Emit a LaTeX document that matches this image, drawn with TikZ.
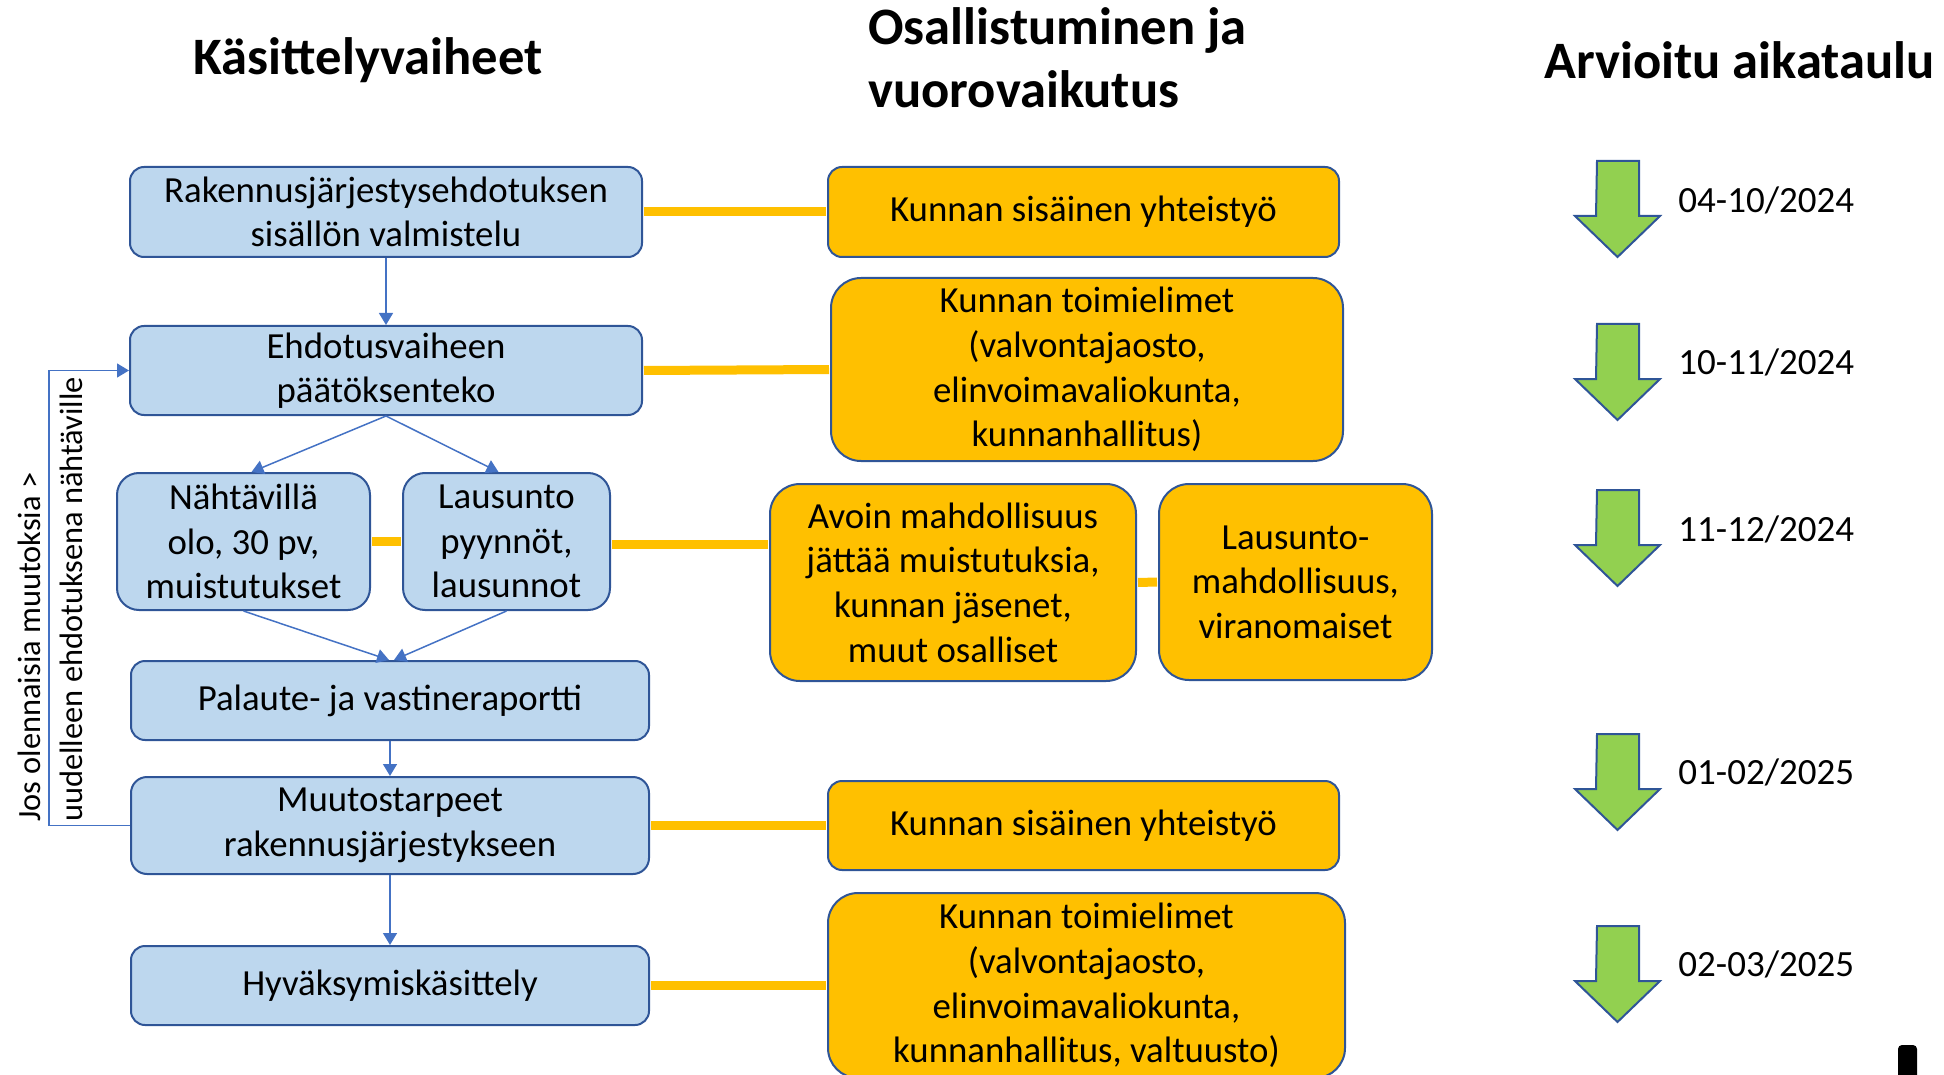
\documentclass[tikz,border=0pt]{standalone}
\usepackage{fontspec}
\setmainfont{Carlito}
\usetikzlibrary{arrows.meta, positioning}

\definecolor{stepfill}{HTML}{BDD7EE}
\definecolor{boxline}{HTML}{2F5597}
\definecolor{partfill}{HTML}{FFC000}
\definecolor{flowblue}{HTML}{4472C4}
\definecolor{arrowgreen}{HTML}{92D050}

\begin{document}
\begin{tikzpicture}[
    x=0.5pt, y=-0.5pt,
    stage/.style={rectangle, draw=boxline, line width=1pt, fill=stepfill, rounded corners=7pt, align=center, inner sep=2pt, font=\fontsize{18.4}{22.3}\selectfont},
    part/.style={rectangle, draw=boxline, line width=1pt, fill=partfill, rounded corners=15pt, align=center, inner sep=2pt, font=\fontsize{18.4}{22.3}\selectfont},
    heading/.style={inner sep=0pt, font=\fontsize{26.3}{31.5}\selectfont\bfseries},
    link/.style={draw=partfill, line width=4.5pt, shorten <=0.5pt, shorten >=0.5pt},
    flow/.style={draw=flowblue, line width=0.75pt, -{Triangle[width=7pt,length=6pt]}},
    timearrow/.style={draw=boxline, line width=1pt, fill=arrowgreen},
    date/.style={anchor=west, inner sep=0pt, font=\fontsize{18.5}{22}\selectfont}
]
\useasboundingbox (0,0) rectangle (1944,1075);

% column headings
\node[heading] (head1) at (368,60) {Käsittelyvaiheet};
\node[heading, align=left, anchor=west] (head2) at (868,58) {Osallistuminen ja\\vuorovaikutus};
\node[heading, anchor=west] (head3) at (1544,60) {Arvioitu aikataulu};

% processing steps
\node[stage, minimum width=256pt, minimum height=45pt] (prep) at (386,212) {Rakennusjärjestysehdotuksen\\sisällön valmistelu};
\node[stage, minimum width=256pt, minimum height=44.5pt] (ehd) at (386,370.5) {Ehdotusvaiheen\\päätöksenteko};
\node[stage, minimum width=126.5pt, minimum height=68.5pt, rounded corners=11pt] (nah) at (243.5,541.5) {Nähtävillä\\olo, 30 pv,\\muistutukset};
\node[stage, minimum width=103.5pt, minimum height=68.5pt, rounded corners=11pt] (laus) at (506.5,541.5) {Lausunto\\pyynnöt,\\lausunnot};
\node[stage, minimum width=259pt, minimum height=39.5pt] (pal) at (390,700.5) {Palaute- ja vastineraportti};
\node[stage, minimum width=259pt, minimum height=48.5pt, rounded corners=8pt] (muut) at (390,825.5) {Muutostarpeet\\rakennusjärjestykseen};
\node[stage, minimum width=259pt, minimum height=39.5pt] (hyv) at (390,985.5) {Hyväksymiskäsittely};

% participation
\node[part, minimum width=255.5pt, minimum height=45pt, rounded corners=7pt] (coop1) at (1083.5,212) {Kunnan sisäinen yhteistyö};
\node[part, minimum width=256pt, minimum height=91.5pt] (organs1) at (1087,369.5) {Kunnan toimielimet\\(valvontajaosto,\\elinvoimavaliokunta,\\kunnanhallitus)};
\node[part, minimum width=183pt, minimum height=98.5pt] (open) at (953,582.5) {Avoin mahdollisuus\\jättää muistutuksia,\\kunnan jäsenet,\\muut osalliset};
\node[part, minimum width=136.5pt, minimum height=98pt] (auth) at (1295.5,582) {Lausunto-\\mahdollisuus,\\viranomaiset};
\node[part, minimum width=255.5pt, minimum height=44.5pt, rounded corners=7pt] (coop2) at (1083.5,825.5) {Kunnan sisäinen yhteistyö};
\node[part, minimum width=258.5pt, minimum height=92.5pt] (organs2) at (1086.5,985.5) {Kunnan toimielimet\\(valvontajaosto,\\elinvoimavaliokunta,\\kunnanhallitus, valtuusto)};

\draw[link] (prep.east) -- (coop1.west);
\draw[link] (ehd.east) -- (organs1.west);
\draw[link] (nah.east) -- (laus.west);
\draw[link] ([yshift=-1.5pt]laus.east) -- ([yshift=-1.5pt]laus.east -| open.west);
\draw[link] (open.east) -- (auth.west);
\draw[link] (muut.east) -- (coop2.west);
\draw[link] (hyv.east) -- (organs2.west);

\draw[flow] (prep) -- (ehd);
\draw[flow] (ehd.south) -- ([xshift=4pt]nah.north);
\draw[flow] (ehd.south) -- ([xshift=-4pt]laus.north);
\draw[flow] (nah.south) -- ([xshift=-0.5pt]pal.north);
\draw[flow] (laus.south) -- ([xshift=2pt]pal.north);
\draw[flow] (pal) -- (muut);
\draw[flow] (muut) -- (hyv);
\draw[flow] (muut.west) -- ++(-81,0) |- (ehd.west);
\node[rotate=90, anchor=north west, align=left, inner sep=0pt, font=\fontsize{16.2}{21}\selectfont] (note) at (18,822) {Jos olennaisia muutoksia >\\uudelleen ehdotuksena nähtäville};

% schedule
\foreach \ty in {161,324,490,734,926}
  \draw[timearrow] (1597,\ty) -- ++(42,0) -- ++(0,55) -- ++(21,0) -- ++(-42.5,41) -- ++(-42.5,-41) -- ++(21,0) -- cycle;
\node[date] (d1) at (1678,200) {04-10/2024};
\node[date] (d2) at (1678,362) {10-11/2024};
\node[date] (d3) at (1678,529) {11-12/2024};
\node[date] (d4) at (1678,772) {01-02/2025};
\node[date] (d5) at (1678,964) {02-03/2025};

\fill[black, rounded corners=2pt] (1898,1045) rectangle (1917,1090);
\end{tikzpicture}
\end{document}
